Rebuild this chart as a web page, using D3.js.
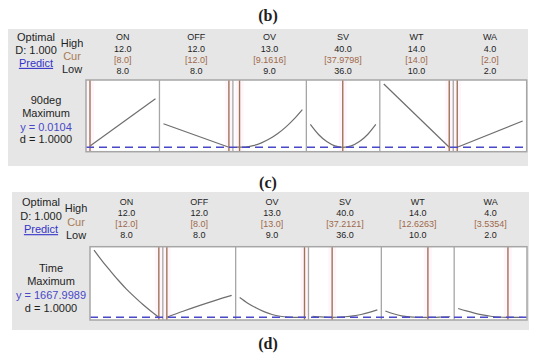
<!DOCTYPE html>
<html>
<head>
<meta charset="utf-8">
<script src="https://cdn.jsdelivr.net/npm/d3@7"></script>
<style>
  body { margin: 0; background: #fff; }
  text { font-family: "Liberation Sans", Arial, sans-serif; fill: #1e1e1e; }
</style>
</head>
<body>
<svg id="chart" width="550" height="360"></svg>
<script>
var factors = ['ON', 'OFF', 'OV', 'SV', 'WT', 'WA'];
var highs = [12.0, 12.0, 13.0, 40.0, 14.0, 4.0];
var lows = [8.0, 8.0, 9.0, 36.0, 10.0, 2.0];

var curB = [8.0, 12.0, 9.1616, 37.9798, 14.0, 2.0];
var curLabelsB = ['[8.0]', '[12.0]', '[9.1616]', '[37.9798]', '[14.0]', '[2.0]'];
var curC = [12.0, 8.0, 13.0, 37.2121, 12.6263, 3.5354];
var curLabelsC = ['[12.0]', '[8.0]', '[13.0]', '[37.2121]', '[12.6263]', '[3.5354]'];

// response traces, relative height above predicted value
var onB = [[8, 0.02], [12, 0.72]];
var offB = [[8, 0.35], [12, 0]];
var ovB = [[9, 0.002], [9.5, 0.004], [10, 0.025], [10.5, 0.066], [11, 0.126], [11.5, 0.205], [12, 0.304], [12.5, 0.422], [13, 0.56]];
var svB = [[36, 0.34], [36.5, 0.19], [37, 0.085], [37.5, 0.021], [38, 0], [38.5, 0.021], [39, 0.085], [39.5, 0.19], [40, 0.34]];
var wtB = [[10, 0.94], [14, 0]];
var waB = [[2, 0], [4, 0.39]];

var onC = [[8, 0.95], [8.5, 0.80], [9, 0.66], [9.5, 0.525], [10, 0.40], [10.5, 0.29], [11, 0.185], [11.5, 0.09], [12, 0]];
var offC = [[8, 0], [9, 0.085], [10, 0.165], [11, 0.24], [12, 0.31]];
var ovC = [[9, 0.28], [9.5, 0.20], [10, 0.135], [10.5, 0.08], [11, 0.04], [11.5, 0.015], [12, 0.003], [12.5, 0], [13, 0]];
var svC = [[36, 0.015], [36.5, 0.005], [37, 0], [37.5, 0.001], [38, 0.008], [38.5, 0.02], [39, 0.04], [39.5, 0.07], [40, 0.105]];
var wtC = [[10, 0.09], [10.5, 0.05], [11, 0.02], [11.5, 0.005], [12, 0], [13, 0], [13.5, 0.004], [14, 0.008]];
var waC = [[2, 0.125], [2.25, 0.09], [2.5, 0.06], [2.75, 0.035], [3, 0.015], [3.25, 0.004], [3.5, 0], [4, 0]];

var panelB = {
  response: '90deg', yText: 'y = 0.0104', cur: curB, curLabels: curLabelsB,
  traces: [onB, offB, ovB, svB, wtB, waB],
  bg: [8, 29, 520, 137], box: [86, 80, 526.7, 151.7], base: 147.3,
  headY: [37, 48.5, 59.5, 70.5], optX: 36, optY: [37, 50, 63],
  hclX: 72, hclY: [43, 56, 69], leftX: 46, leftY: [100, 113.3, 126.7, 139.3]
};
var panelC = {
  response: 'Time', yText: 'y = 1667.9989', cur: curC, curLabels: curLabelsC,
  traces: [onC, offC, ovC, svC, wtC, waC],
  bg: [12, 192, 517, 138], box: [90, 246.7, 527, 320], base: 317.3,
  headY: [202, 213, 224, 235], optX: 41, optY: [202.3, 216, 229.3],
  hclX: 76, hclY: [207.7, 221.7, 235], leftX: 51, leftY: [267.7, 281, 295, 308.3]
};

var grey = '#a6a6a6';
var brown = '#9e7458';
var blue = '#4848c8';
var curCol = '#a0684a';

var svg = d3.select('#chart');

// figure letters
[['(b)', 15], ['(c)', 182], ['(d)', 343]].forEach(function (t) {
  svg.append('text')
    .attr('x', 268).attr('y', t[1]).attr('dy', '0.35em')
    .attr('text-anchor', 'middle')
    .style('font-family', '"Liberation Serif", serif')
    .style('font-weight', 'bold')
    .style('font-size', '16px')
    .text(t[0]);
});

function drawPanel(p) {
  var g = svg.append('g');
  g.append('rect')
    .attr('x', p.bg[0]).attr('y', p.bg[1])
    .attr('width', p.bg[2]).attr('height', p.bg[3])
    .attr('fill', '#e6e6e6');

  // optimal block
  ['Optimal', 'D: 1.000', 'Predict'].forEach(function (s, i) {
    var t = g.append('text')
      .attr('x', p.optX).attr('y', p.optY[i]).attr('dy', '0.35em')
      .attr('text-anchor', 'middle')
      .style('font-size', '11px')
      .text(s);
    if (s === 'Predict') t.style('fill', '#3434c8').style('text-decoration', 'underline');
  });
  ['High', 'Cur', 'Low'].forEach(function (s, i) {
    g.append('text')
      .attr('x', p.hclX).attr('y', p.hclY[i]).attr('dy', '0.35em')
      .attr('text-anchor', 'middle')
      .style('font-size', '11px')
      .style('fill', s === 'Cur' ? '#a87c52' : '#1e1e1e')
      .text(s);
  });

  // response block
  [p.response, 'Maximum', p.yText, 'd = 1.0000'].forEach(function (s, i) {
    g.append('text')
      .attr('x', p.leftX).attr('y', p.leftY[i]).attr('dy', '0.35em')
      .attr('text-anchor', 'middle')
      .style('font-size', '11px')
      .style('fill', i === 2 ? blue : '#1e1e1e')
      .text(s);
  });

  var x0 = p.box[0], y0 = p.box[1], x1 = p.box[2], y1 = p.box[3];
  var col = d3.scaleBand().domain(factors).range([x0, x1]).padding(0);
  var y = d3.scaleLinear().domain([0, 1]).range([p.base, y0]);

  g.append('rect')
    .attr('x', x0).attr('y', y0)
    .attr('width', x1 - x0).attr('height', y1 - y0)
    .attr('fill', '#fff');

  factors.forEach(function (f, i) {
    var cx = col(f), w = col.bandwidth();
    var x = d3.scaleLinear().domain([lows[i], highs[i]]).range([cx + 4, cx + w - 4]);
    var fmt = d3.format('.1f');

    var heads = [f, fmt(highs[i]), p.curLabels[i], fmt(lows[i])];
    heads.forEach(function (s, k) {
      g.append('text')
        .attr('x', cx + w / 2).attr('y', p.headY[k]).attr('dy', '0.35em')
        .attr('text-anchor', 'middle')
        .style('font-size', '9px')
        .style('fill', k === 2 ? curCol : '#1e1e1e')
        .text(s);
    });

    // current setting marker
    var cxv = x(p.cur[i]);
    var bx0 = Math.max(x0, cxv - 4), bx1 = Math.min(x1, cxv + 4);
    g.append('rect')
      .attr('x', bx0).attr('y', y0)
      .attr('width', bx1 - bx0)
      .attr('height', y1 - y0)
      .attr('fill', '#ffb0d8').attr('fill-opacity', 0.12);

    var line = d3.line()
      .x(function (d) { return x(d[0]); })
      .y(function (d) { return y(d[1]); })
      .curve(d3.curveMonotoneX);
    g.append('path')
      .datum(p.traces[i])
      .attr('d', line)
      .attr('fill', 'none')
      .attr('stroke', '#6e6e6e')
      .attr('stroke-width', 1.2);

    g.append('line')
      .attr('x1', cxv).attr('x2', cxv)
      .attr('y1', y0).attr('y2', y1)
      .attr('stroke', brown).attr('stroke-width', 1.4);

    if (i > 0) {
      g.append('line')
        .attr('x1', cx).attr('x2', cx)
        .attr('y1', y0).attr('y2', y1)
        .attr('stroke', grey).attr('stroke-width', 1.3);
    }
  });

  g.append('line')
    .attr('x1', x0).attr('x2', x1)
    .attr('y1', p.base).attr('y2', p.base)
    .attr('stroke', blue).attr('stroke-width', 1.4)
    .attr('stroke-dasharray', '8,5');

  g.append('rect')
    .attr('x', x0).attr('y', y0)
    .attr('width', x1 - x0).attr('height', y1 - y0)
    .attr('fill', 'none')
    .attr('stroke', grey).attr('stroke-width', 1.5);
}

drawPanel(panelB);
drawPanel(panelC);
</script>
</body>
</html>
